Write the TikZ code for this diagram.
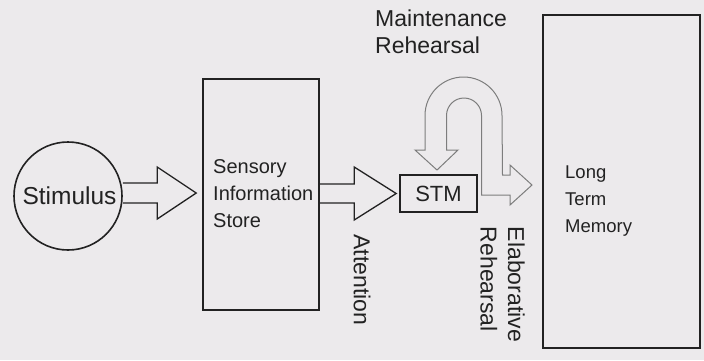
\documentclass[tikz,border=0pt]{standalone}
\usepackage{fontspec}
\setmainfont{Liberation Sans}
\usetikzlibrary{calc}
\definecolor{paper}{RGB}{236,234,236}
\definecolor{ink}{RGB}{34,34,34}
\definecolor{loopgray}{RGB}{125,125,125}
\newcommand\hollowarrow[5]{% start, tip, head length, shaft half, head half
  \draw[blockarrow] ($(#1)+(0,-#4)$) -- ($(#2)+(-#3,-#4)$) -- ($(#2)+(-#3,-#5)$) -- (#2)
    -- ($(#2)+(-#3,#5)$) -- ($(#2)+(-#3,#4)$) -- ($(#1)+(0,#4)$);}
\begin{document}
\begin{tikzpicture}[x=1pt,y=-1pt,
  boxline/.style={draw=ink,line width=1.6pt},
  blockarrow/.style={draw=ink,line width=1.3pt,line join=miter},
  looparrow/.style={draw=loopgray,line width=1pt,line join=miter},
  lbl/.style={text=ink,inner sep=0pt,font=\fontsize{23}{27}\selectfont}]
\fill[paper] (0,0) rectangle (704,360);
\useasboundingbox (0,0) rectangle (704,360);
% nodes
\node[boxline,circle,minimum size=108pt,inner sep=0pt] (stim) at (68,196) {};
\node[lbl,font=\fontsize{24.5}{27}\selectfont] (stimtext) at (69.5,196) {Stimulus};
\node[boxline,rectangle,minimum width=116pt,minimum height=231pt,inner sep=0pt] (sis) at (261,194.5) {};
\node[lbl,anchor=base west,align=left,font=\fontsize{20}{27}\selectfont] (sistext) at (213,227) {Sensory\\Information\\Store};
\node[boxline,rectangle,minimum width=77pt,minimum height=37pt,inner sep=0pt] (stm) at (438.5,193.5) {};
\node[lbl,font=\fontsize{22}{26}\selectfont] (stmtext) at (stm.center) {STM};
\node[boxline,rectangle,minimum width=157pt,minimum height=333pt,inner sep=0pt] (ltm) at (621.5,181.5) {};
\node[lbl,anchor=base west,align=left,font=\fontsize{18.5}{27}\selectfont] (ltmtext) at (565,232) {Long\\Term\\Memory};
\node[lbl,anchor=base west,align=left,font=\fontsize{23}{26.5}\selectfont] (maint) at (375,53) {Maintenance\\Rehearsal};
\node[lbl,rotate=-90] (attn) at (362,280) {Attention};
\node[lbl,rotate=-90,align=left,font=\fontsize{23}{27.5}\selectfont] (elab) at (502.5,284.5) {Elaborative\\Rehearsal};
% block arrows
\coordinate (t1) at ($(sis.west)+(-6,-1.5)$);
\coordinate (s1) at (stim.east |- t1);
\hollowarrow{s1}{t1}{39}{10}{26}
\coordinate (t2) at ($(stm.west)+(-3,0)$);
\coordinate (s2) at (sis.east |- t2);
\hollowarrow{s2}{t2}{42}{9.5}{26.5}
% maintenance rehearsal loop
\draw[looparrow] (425,150) -- (425,115.5) arc[start angle=180,end angle=0,radius=38.5pt]
  -- (502.5,175) -- (510,175) -- (510,165) -- (532,185) -- (510,205) -- (510,195)
  -- (481.5,195) -- (481.5,115.5) arc[start angle=0,end angle=180,radius=17.5pt]
  -- (446.5,150) -- (458,150) -- (437,170) -- (415,150) -- cycle;
\end{tikzpicture}
\end{document}
